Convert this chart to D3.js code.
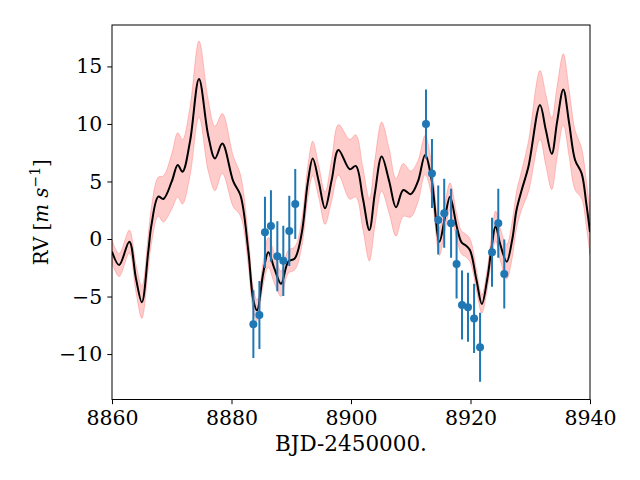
<!DOCTYPE html>
<html>
<head>
<meta charset="utf-8">
<script src="https://cdn.jsdelivr.net/npm/d3@7"></script>
<style>
  body { margin: 0; background: #fff; }
  svg { display: block; }
  .tick text { font-family: "DejaVu Serif", serif; font-size: 20.5px; fill: #000; }
</style>
</head>
<body>
<div id="chart"></div>
<script>
// observed RVs
const obsTime = [8883.66, 8884.67, 8885.6, 8886.6, 8887.67, 8888.67, 8889.67, 8890.67,
  8912.55, 8913.55, 8914.6, 8915.6, 8916.75, 8917.67, 8918.58, 8919.58, 8920.6, 8921.6,
  8923.6, 8924.65, 8925.65];
const obsRV = [-7.4, -6.6, 0.58, 1.13, -1.5, -1.9, 0.7, 3.04,
  10.0, 5.7, 1.65, 2.23, 1.36, -2.17, -5.74, -5.94, -6.9, -9.4,
  -1.16, 1.36, -3.04];
const obsErr = [2.95, 2.95, 3.1, 3.1, 3.05, 3.05, 3.05, 3.05,
  3.0, 3.0, 3.0, 3.0, 3.0, 3.0, 3.0, 3.0, 3.0, 3.0,
  3.0, 3.0, 3.0];

// GP prediction (mean and 1 sigma)
const gpTime = [8860.0, 8861.2, 8862.9, 8864.0, 8865.0, 8866.07, 8866.6, 8867.75, 8868.6, 8870.0,
  8871.0, 8871.8, 8873.05, 8874.56, 8876.1, 8877.24, 8878.46, 8880.3, 8881.5, 8882.8,
  8883.65, 8884.27, 8885.3, 8886.16, 8887.2, 8888.3, 8889.5, 8890.6, 8891.75, 8892.75,
  8893.6, 8894.6, 8895.65, 8896.77, 8897.9, 8899.8, 8900.8, 8902.0, 8903.07, 8904.0,
  8905.13, 8906.4, 8907.53, 8908.75, 8910.0, 8911.2, 8912.4, 8913.5, 8914.8, 8915.7,
  8916.57, 8917.7, 8918.5, 8919.1, 8919.9, 8921.0, 8921.9, 8922.8, 8923.55, 8924.2,
  8925.0, 8926.06, 8927.0, 8927.7, 8928.57, 8929.7, 8931.63, 8932.6, 8933.6, 8934.5,
  8935.53, 8936.5, 8937.5, 8938.6, 8939.4, 8940.0];
const gpMean = [-1.1, -2.26, -0.23, -3.4, -5.5, -1.1, 1.2, 3.68, 3.48, 5.0,
  6.43, 5.85, 8.46, 13.9, 9.0, 7.0, 8.3, 5.0, 3.8, -0.96,
  -5.3, -6.2, -3.0, -1.16, -2.6, -3.9, -1.97, -1.68, 0.5, 4.84,
  7.0, 5.0, 2.67, 5.13, 7.74, 6.06, 6.35, 3.5, 0.78, 4.0,
  7.16, 5.0, 2.75, 4.26, 3.9, 5.0, 7.3, 5.13, -0.23, 1.8,
  3.68, 1.07, -0.3, -0.52, -0.96, -3.57, -5.65, -3.5, -0.67, 1.13,
  -0.5, -1.97, 0.0, 2.52, 4.26, 6.3, 11.65, 9.5, 7.4, 10.2,
  13.0, 10.1, 6.87, 5.7, 3.0, 0.6];
const gpStd = [1.0, 1.0, 1.0, 1.2, 1.4, 1.5, 1.6, 1.7, 2.0, 2.4,
  2.8, 2.8, 3.0, 3.3, 3.1, 2.8, 2.6, 2.2, 1.8, 1.3,
  1.0, 0.9, 1.0, 1.3, 1.3, 1.1, 1.0, 1.0, 1.2, 1.4,
  1.5, 1.4, 1.4, 1.8, 2.2, 2.6, 2.7, 2.7, 2.7, 2.9,
  3.0, 2.8, 2.5, 2.3, 2.0, 1.8, 1.7, 1.4, 1.2, 1.2,
  1.2, 1.1, 1.0, 1.0, 1.0, 0.9, 0.8, 0.9, 1.1, 1.3,
  1.4, 1.5, 1.6, 1.6, 1.7, 2.2, 3.0, 3.1, 3.1, 3.1,
  3.1, 2.9, 2.6, 2.2, 2.0, 2.0];

const xTicks = [8860, 8880, 8900, 8920, 8940];
const yTicks = [-10, -5, 0, 5, 10, 15];

const width = 640, height = 480;
const margin = { top: 25, right: 50, bottom: 80.5, left: 112 };

const svg = d3.select('#chart').append('svg')
  .attr('width', width)
  .attr('height', height);

const xScale = d3.scaleLinear()
  .domain([8860, 8940])
  .range([margin.left, width - margin.right]);

const yScale = d3.scaleLinear()
  .domain([-13.95, 18.6])
  .range([height - margin.bottom, margin.top]);

svg.append('clipPath')
  .attr('id', 'plot-clip')
  .append('rect')
  .attr('x', margin.left)
  .attr('y', margin.top)
  .attr('width', width - margin.left - margin.right)
  .attr('height', height - margin.top - margin.bottom);

const gp = gpTime.map((t, i) => ({ t: t, m: gpMean[i], s: gpStd[i] }));
const obs = obsTime.map((t, i) => ({ t: t, v: obsRV[i], e: obsErr[i] }));

const plot = svg.append('g').attr('clip-path', 'url(#plot-clip)');

// 1 sigma band
const band = d3.area()
  .x(d => xScale(d.t))
  .y0(d => yScale(d.m - d.s))
  .y1(d => yScale(d.m + d.s))
  .curve(d3.curveCatmullRom.alpha(0.5));

plot.append('path')
  .datum(gp)
  .attr('d', band)
  .attr('fill', 'red')
  .attr('fill-opacity', 0.2)
  .attr('stroke', 'red')
  .attr('stroke-opacity', 0.2)
  .attr('stroke-width', 1);

// mean model
const line = d3.line()
  .x(d => xScale(d.t))
  .y(d => yScale(d.m))
  .curve(d3.curveCatmullRom.alpha(0.5));

plot.append('path')
  .datum(gp)
  .attr('d', line)
  .attr('fill', 'none')
  .attr('stroke', '#000')
  .attr('stroke-width', 2);

// error bars + points
plot.selectAll('.errbar')
  .data(obs)
  .join('line')
  .attr('class', 'errbar')
  .attr('x1', d => xScale(d.t))
  .attr('x2', d => xScale(d.t))
  .attr('y1', d => yScale(d.v - d.e))
  .attr('y2', d => yScale(d.v + d.e))
  .attr('stroke', '#1f77b4')
  .attr('stroke-width', 2);

plot.selectAll('.point')
  .data(obs)
  .join('circle')
  .attr('class', 'point')
  .attr('cx', d => xScale(d.t))
  .attr('cy', d => yScale(d.v))
  .attr('r', 4)
  .attr('fill', '#1f77b4');

// axes
const xAxis = d3.axisBottom(xScale)
  .tickValues(xTicks)
  .tickSize(4.7)
  .tickPadding(6.5)
  .tickFormat(d3.format('d'));

const yAxis = d3.axisLeft(yScale)
  .tickValues(yTicks)
  .tickSize(4.7)
  .tickPadding(5);

svg.append('g')
  .attr('transform', `translate(0,${height - margin.bottom})`)
  .call(xAxis)
  .call(g => g.select('.domain').remove())
  .call(g => g.selectAll('.tick line').attr('stroke', '#000'));

svg.append('g')
  .attr('transform', `translate(${margin.left},0)`)
  .call(yAxis)
  .call(g => g.select('.domain').remove())
  .call(g => g.selectAll('.tick line').attr('stroke', '#000'));

// frame
svg.append('rect')
  .attr('x', margin.left)
  .attr('y', margin.top)
  .attr('width', width - margin.left - margin.right)
  .attr('height', height - margin.top - margin.bottom)
  .attr('fill', 'none')
  .attr('stroke', '#000')
  .attr('stroke-width', 1);

// axis titles
svg.append('text')
  .attr('x', (margin.left + width - margin.right) / 2)
  .attr('y', 451)
  .attr('text-anchor', 'middle')
  .style('font-family', '"DejaVu Serif", serif')
  .style('font-size', '21.5px')
  .text('BJD-2450000.');

const ylab = svg.append('text')
  .attr('transform', `translate(48,${(margin.top + height - margin.bottom) / 2}) rotate(-90)`)
  .attr('text-anchor', 'middle')
  .style('font-family', '"DejaVu Serif", serif')
  .style('font-size', '19.8px');
ylab.append('tspan').text('RV [');
ylab.append('tspan').style('font-style', 'italic').text('m');
ylab.append('tspan').text(' ');
ylab.append('tspan').style('font-style', 'italic').text('s');
ylab.append('tspan').attr('dy', -8.5).style('font-size', '14px').text('−1');
ylab.append('tspan').attr('dy', 8.5).text(']');
</script>
</body>
</html>
